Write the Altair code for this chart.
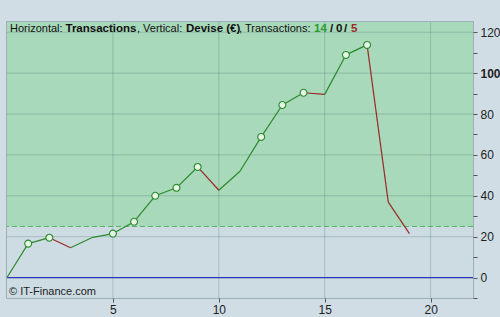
import altair as alt
import pandas as pd

# ---- data ----
trades = list(range(20))
equity = [0, 16.6, 19.5, 14.6, 19.5, 21.5, 27.3, 40.0, 43.9, 54.1, 42.7,
          52.0, 68.8, 84.4, 90.4, 89.6, 108.9, 113.8, 36.9, 21.5]
peak_trades = [1, 2, 5, 6, 7, 8, 9, 12, 13, 14, 16, 17]
threshold = [25]
zero_line = [0]
h_grid = [0, 20, 40, 60, 80, 100, 120]
v_grid = [5, 10, 15, 20]
x_ticks = [5, 10, 15, 20]
y_ticks = list(range(-10, 121, 10))
x_domain = [0, 22]
y_domain = [-10, 125]

W, H = 466, 276

seg = pd.DataFrame({
    "x": trades[:-1], "x2": trades[1:],
    "y": equity[:-1], "y2": equity[1:],
})
seg["win"] = [b >= a for a, b in zip(equity[:-1], equity[1:])]
pts = pd.DataFrame({"x": peak_trades, "y": [equity[t] for t in peak_trades]})

xs = alt.Scale(domain=x_domain, nice=False, zero=False)
ys = alt.Scale(domain=y_domain, nice=False, zero=False)

x_axis = alt.Axis(values=x_ticks, title=None, orient="bottom", grid=False, domain=False,
                  tickSize=4, tickColor="#555555", labelFontSize=12, labelColor="#222222",
                  labelPadding=2, labelFont="Liberation Sans")
y_axis = alt.Axis(values=y_ticks, title=None, orient="right", grid=False, domain=False,
                  tickSize=4, tickColor="#555555", labelFontSize=12, labelColor="#222222",
                  labelPadding=3, labelFont="Liberation Sans",
                  labelExpr="datum.value % 20 == 0 ? datum.label : ''",
                  labelFontWeight={"condition": {"test": "datum.value == 100", "value": "bold"},
                                   "value": "normal"})


def xenc(f):
    return alt.X(f, scale=xs, axis=x_axis)


def yenc(f):
    return alt.Y(f, scale=ys, axis=y_axis)


# background bands
low = pd.DataFrame({"x": [x_domain[0]], "x2": [x_domain[1]],
                    "y": [y_domain[0]], "y2": [threshold[0]]})
high = pd.DataFrame({"x": [x_domain[0]], "x2": [x_domain[1]],
                     "y": [threshold[0]], "y2": [y_domain[1]]})
low_layer = alt.Chart(low).mark_rect(color="#cddce3").encode(
    x=xenc("x:Q"), x2="x2", y=yenc("y:Q"), y2="y2")
high_layer = alt.Chart(high).mark_rect(color="#a9d9bb").encode(
    x=xenc("x:Q"), x2="x2", y=yenc("y:Q"), y2="y2")

hgrid = alt.Chart(pd.DataFrame({"v": h_grid})).mark_rule(
    color="#4f6f75", opacity=0.3, strokeWidth=1).encode(y=yenc("v:Q"))
vgrid = alt.Chart(pd.DataFrame({"v": v_grid})).mark_rule(
    color="#4f6f75", opacity=0.3, strokeWidth=1).encode(x=xenc("v:Q"))

dash = alt.Chart(pd.DataFrame({"v": threshold})).mark_rule(
    color="#55b065", strokeDash=[5, 3], strokeWidth=1).encode(y=yenc("v:Q"))
zero = alt.Chart(pd.DataFrame({"v": zero_line})).mark_rule(
    color="#2a36b8", strokeWidth=1.2).encode(y=yenc("v:Q"))

win_lines = alt.Chart(seg).transform_filter("datum.win").mark_rule(
    strokeWidth=1.2, color="#2a8a2a").encode(
    x=xenc("x:Q"), x2="x2", y=yenc("y:Q"), y2="y2")
loss_lines = alt.Chart(seg).transform_filter("!datum.win").mark_rule(
    strokeWidth=1.2, color="#9a2a25").encode(
    x=xenc("x:Q"), x2="x2", y=yenc("y:Q"), y2="y2")

points = alt.Chart(pts).mark_point(shape="circle", filled=True, size=48, fill="#e6f5e8",
                                   stroke="#2a8a2a", strokeWidth=1.1, opacity=1).encode(
    x=xenc("x:Q"), y=yenc("y:Q"))

# header text pieces: (text, x, weight, color, size)
header = [
    ("Horizontal:", 3, "normal", "#111111", 11),
    ("Transactions", 58.5, "bold", "#111111", 11.5),
    (", Vertical:", 130, "normal", "#111111", 11),
    ("Devise (€)", 179, "bold", "#111111", 11.5),
    (", Transactions:", 232, "normal", "#111111", 11),
    ("14", 307, "bold", "#2e9a2e", 11.5),
    ("/", 323, "bold", "#111111", 11.5),
    ("0", 329, "bold", "#111111", 11.5),
    ("/", 337, "bold", "#111111", 11.5),
    ("5", 344, "bold", "#9a2a25", 11.5),
]
texts = []
for t, xp, wgt, col, fs in header:
    texts.append(
        alt.Chart(pd.DataFrame({"t": [t]})).mark_text(
            align="left", baseline="middle", fontSize=fs, fontWeight=wgt,
            color=col, font="Liberation Sans").encode(
            text="t:N", x=alt.value(xp), y=alt.value(7))
    )
copyright_txt = alt.Chart(pd.DataFrame({"t": ["© IT-Finance.com"]})).mark_text(
    align="left", baseline="middle", fontSize=11, color="#222222",
    font="Liberation Sans").encode(text="t:N", x=alt.value(2), y=alt.value(270))

chart = alt.layer(low_layer, high_layer, hgrid, vgrid, dash, zero, win_lines, loss_lines,
                  points, *texts, copyright_txt).properties(
    width=W, height=H,
    autosize=alt.AutoSizeParams(type="none"),
    padding={"left": 7, "top": 22, "right": 500 - 7 - W, "bottom": 317 - 22 - H},
    background="#d0dde5",
).configure_view(stroke="#8a9fa8", strokeWidth=1.5)

chart.save("out.html", embed_options={"renderer": "svg", "actions": False})
